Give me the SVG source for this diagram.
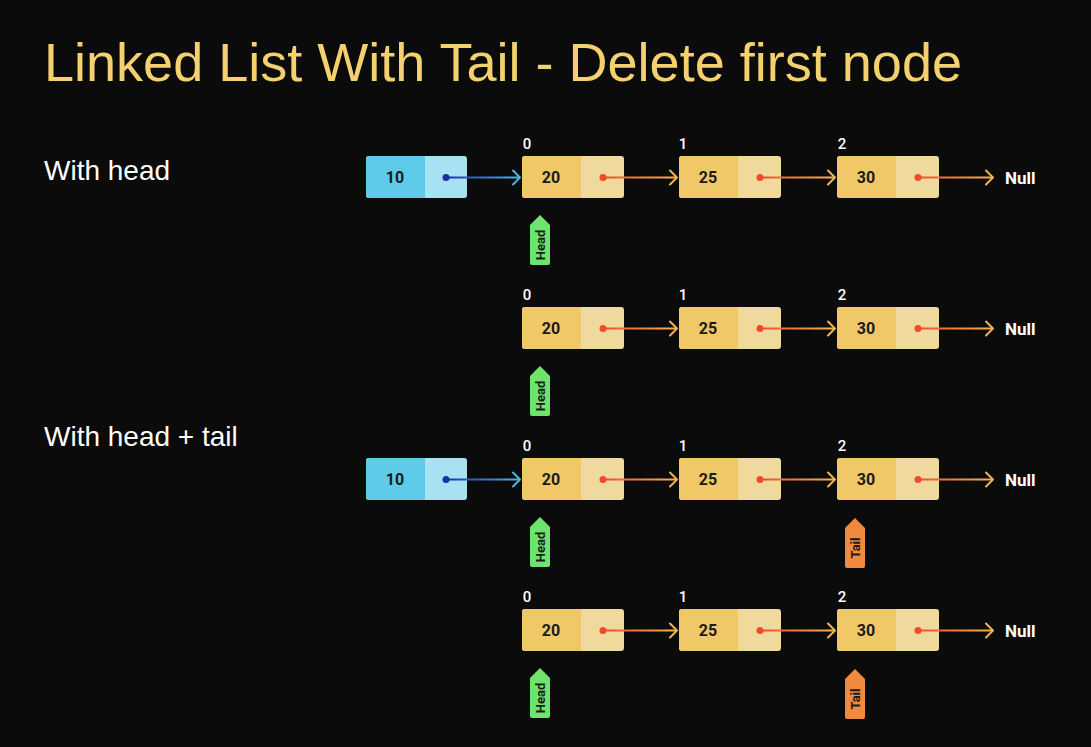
<svg xmlns="http://www.w3.org/2000/svg" width="1091" height="747" viewBox="0 0 1091 747">
<defs>
<linearGradient id="gB" x1="0" x2="1" y1="0" y2="0"><stop offset="0" stop-color="#1a2fa8"/><stop offset="1" stop-color="#4fb3e8"/></linearGradient>
<linearGradient id="gO" x1="0" x2="1" y1="0" y2="0"><stop offset="0" stop-color="#ef4a2c"/><stop offset="1" stop-color="#f2b453"/></linearGradient>
<style>
.bg{fill:#0b0b0b}
.title{font-family:"Liberation Sans",Arial,sans-serif;font-size:54px;fill:#f4d06e}
.lbl{font-family:"Liberation Sans",Arial,sans-serif;font-size:28px;fill:#ffffff}
.idx{font-family:Roboto,"Liberation Sans",sans-serif;font-size:15px;font-weight:500;fill:#ffffff}
.val{font-family:Roboto,"Liberation Sans",sans-serif;font-size:16px;font-weight:bold;fill:#1a1a1a}
.null{font-family:Roboto,"Liberation Sans",sans-serif;font-size:17px;font-weight:bold;fill:#ffffff}
.tag{font-family:Roboto,"Liberation Sans",sans-serif;font-size:13px;font-weight:bold;fill:#1a1a1a}
.yA{fill:#f1c867}.yB{fill:#f0d99c}
.bA{fill:#5ecbe8}.bB{fill:#a8e1f1}
.lo{fill:url(#gO)}
.lb{fill:url(#gB)}
.hdo{stroke:#f2b453;stroke-width:2;fill:none;stroke-linecap:round;stroke-linejoin:round}
.hdb{stroke:#4fb3e8;stroke-width:2;fill:none;stroke-linecap:round;stroke-linejoin:round}
.dotr{fill:#ef4a2c}.dotb{fill:#1a2fa8}
.head{fill:#6ee46c}.tail{fill:#f28a3e}
</style>
<g id="yn"><rect x="0" y="0" width="102" height="42" rx="3" class="yB"/><path d="M3 0H59V42H3A3 3 0 0 1 0 39V3A3 3 0 0 1 3 0Z" class="yA"/></g>
<g id="bn"><rect x="0" y="0" width="101" height="42" rx="3" class="bB"/><path d="M3 0H59V42H3A3 3 0 0 1 0 39V3A3 3 0 0 1 3 0Z" class="bA"/></g>
<path id="tagshape" d="M0 10L10 0L20 10V48A2 2 0 0 1 18 50H2A2 2 0 0 1 0 48Z"/>
</defs>
<rect class="bg" x="0" y="0" width="1091" height="747"/>
<text class="title" x="44" y="81" textLength="918" lengthAdjust="spacingAndGlyphs">Linked List With Tail - Delete first node</text>
<text class="lbl" x="44" y="180">With head</text>
<text class="lbl" x="44" y="446">With head + tail</text>

<!-- Row 1 -->
<g id="r1-n10"><use href="#bn" x="366" y="156"/><text class="val" x="395" y="183" text-anchor="middle">10</text></g>
<g id="r1-n20"><use href="#yn" x="522" y="156"/><text class="val" x="551" y="183" text-anchor="middle">20</text><text class="idx" x="527" y="149" text-anchor="middle">0</text></g>
<g id="r1-n25"><use href="#yn" x="679" y="156"/><text class="val" x="708" y="183" text-anchor="middle">25</text><text class="idx" x="683" y="149" text-anchor="middle">1</text></g>
<g id="r1-n30"><use href="#yn" x="837" y="156"/><text class="val" x="866" y="183" text-anchor="middle">30</text><text class="idx" x="842" y="149" text-anchor="middle">2</text></g>
<g id="r1-null"><text class="null" x="1005" y="184">Null</text></g>
<g id="r1-head"><use href="#tagshape" x="530" y="215" class="head"/><text class="tag" transform="translate(544.5 245) rotate(-90)" text-anchor="middle">Head</text></g>

<!-- Row 2 -->
<g id="r2-n20"><use href="#yn" x="522" y="307"/><text class="val" x="551" y="334" text-anchor="middle">20</text><text class="idx" x="527" y="300" text-anchor="middle">0</text></g>
<g id="r2-n25"><use href="#yn" x="679" y="307"/><text class="val" x="708" y="334" text-anchor="middle">25</text><text class="idx" x="683" y="300" text-anchor="middle">1</text></g>
<g id="r2-n30"><use href="#yn" x="837" y="307"/><text class="val" x="866" y="334" text-anchor="middle">30</text><text class="idx" x="842" y="300" text-anchor="middle">2</text></g>
<g id="r2-null"><text class="null" x="1005" y="335">Null</text></g>
<g id="r2-head"><use href="#tagshape" x="530" y="366" class="head"/><text class="tag" transform="translate(544.5 396) rotate(-90)" text-anchor="middle">Head</text></g>

<!-- Row 3 -->
<g id="r3-n10"><use href="#bn" x="366" y="458"/><text class="val" x="395" y="485" text-anchor="middle">10</text></g>
<g id="r3-n20"><use href="#yn" x="522" y="458"/><text class="val" x="551" y="485" text-anchor="middle">20</text><text class="idx" x="527" y="451" text-anchor="middle">0</text></g>
<g id="r3-n25"><use href="#yn" x="679" y="458"/><text class="val" x="708" y="485" text-anchor="middle">25</text><text class="idx" x="683" y="451" text-anchor="middle">1</text></g>
<g id="r3-n30"><use href="#yn" x="837" y="458"/><text class="val" x="866" y="485" text-anchor="middle">30</text><text class="idx" x="842" y="451" text-anchor="middle">2</text></g>
<g id="r3-null"><text class="null" x="1005" y="486">Null</text></g>
<g id="r3-head"><use href="#tagshape" x="530" y="517" class="head"/><text class="tag" transform="translate(544.5 547) rotate(-90)" text-anchor="middle">Head</text></g>
<g id="r3-tail"><use href="#tagshape" x="845" y="518" class="tail"/><text class="tag" transform="translate(859.5 548) rotate(-90)" text-anchor="middle">Tail</text></g>

<!-- Row 4 -->
<g id="r4-n20"><use href="#yn" x="522" y="609"/><text class="val" x="551" y="636" text-anchor="middle">20</text><text class="idx" x="527" y="602" text-anchor="middle">0</text></g>
<g id="r4-n25"><use href="#yn" x="679" y="609"/><text class="val" x="708" y="636" text-anchor="middle">25</text><text class="idx" x="683" y="602" text-anchor="middle">1</text></g>
<g id="r4-n30"><use href="#yn" x="837" y="609"/><text class="val" x="866" y="636" text-anchor="middle">30</text><text class="idx" x="842" y="602" text-anchor="middle">2</text></g>
<g id="r4-null"><text class="null" x="1005" y="637">Null</text></g>
<g id="r4-head"><use href="#tagshape" x="530" y="668" class="head"/><text class="tag" transform="translate(544.5 698) rotate(-90)" text-anchor="middle">Head</text></g>
<g id="r4-tail"><use href="#tagshape" x="845" y="669" class="tail"/><text class="tag" transform="translate(859.5 699) rotate(-90)" text-anchor="middle">Tail</text></g>

<g id="connectors">
<!-- row1 -->
<rect class="lb" x="446" y="176.5" width="74" height="2"/><path class="hdb" d="M513 170.5L520 177.5L513 184.5"/><circle class="dotb" cx="446" cy="177.5" r="3.5"/>
<rect class="lo" x="603" y="176.5" width="74" height="2"/><path class="hdo" d="M670 170.5L677 177.5L670 184.5"/><circle class="dotr" cx="603" cy="177.5" r="3.5"/>
<rect class="lo" x="760" y="176.5" width="75" height="2"/><path class="hdo" d="M828 170.5L835 177.5L828 184.5"/><circle class="dotr" cx="760" cy="177.5" r="3.5"/>
<rect class="lo" x="918" y="176.5" width="75" height="2"/><path class="hdo" d="M986 170.5L993 177.5L986 184.5"/><circle class="dotr" cx="918" cy="177.5" r="3.5"/>
<!-- row2 -->
<rect class="lo" x="603" y="327.5" width="74" height="2"/><path class="hdo" d="M670 321.5L677 328.5L670 335.5"/><circle class="dotr" cx="603" cy="328.5" r="3.5"/>
<rect class="lo" x="760" y="327.5" width="75" height="2"/><path class="hdo" d="M828 321.5L835 328.5L828 335.5"/><circle class="dotr" cx="760" cy="328.5" r="3.5"/>
<rect class="lo" x="918" y="327.5" width="75" height="2"/><path class="hdo" d="M986 321.5L993 328.5L986 335.5"/><circle class="dotr" cx="918" cy="328.5" r="3.5"/>
<!-- row3 -->
<rect class="lb" x="446" y="478.5" width="74" height="2"/><path class="hdb" d="M513 472.5L520 479.5L513 486.5"/><circle class="dotb" cx="446" cy="479.5" r="3.5"/>
<rect class="lo" x="603" y="478.5" width="74" height="2"/><path class="hdo" d="M670 472.5L677 479.5L670 486.5"/><circle class="dotr" cx="603" cy="479.5" r="3.5"/>
<rect class="lo" x="760" y="478.5" width="75" height="2"/><path class="hdo" d="M828 472.5L835 479.5L828 486.5"/><circle class="dotr" cx="760" cy="479.5" r="3.5"/>
<rect class="lo" x="918" y="478.5" width="75" height="2"/><path class="hdo" d="M986 472.5L993 479.5L986 486.5"/><circle class="dotr" cx="918" cy="479.5" r="3.5"/>
<!-- row4 -->
<rect class="lo" x="603" y="629.5" width="74" height="2"/><path class="hdo" d="M670 623.5L677 630.5L670 637.5"/><circle class="dotr" cx="603" cy="630.5" r="3.5"/>
<rect class="lo" x="760" y="629.5" width="75" height="2"/><path class="hdo" d="M828 623.5L835 630.5L828 637.5"/><circle class="dotr" cx="760" cy="630.5" r="3.5"/>
<rect class="lo" x="918" y="629.5" width="75" height="2"/><path class="hdo" d="M986 623.5L993 630.5L986 637.5"/><circle class="dotr" cx="918" cy="630.5" r="3.5"/>
</g>
</svg>
